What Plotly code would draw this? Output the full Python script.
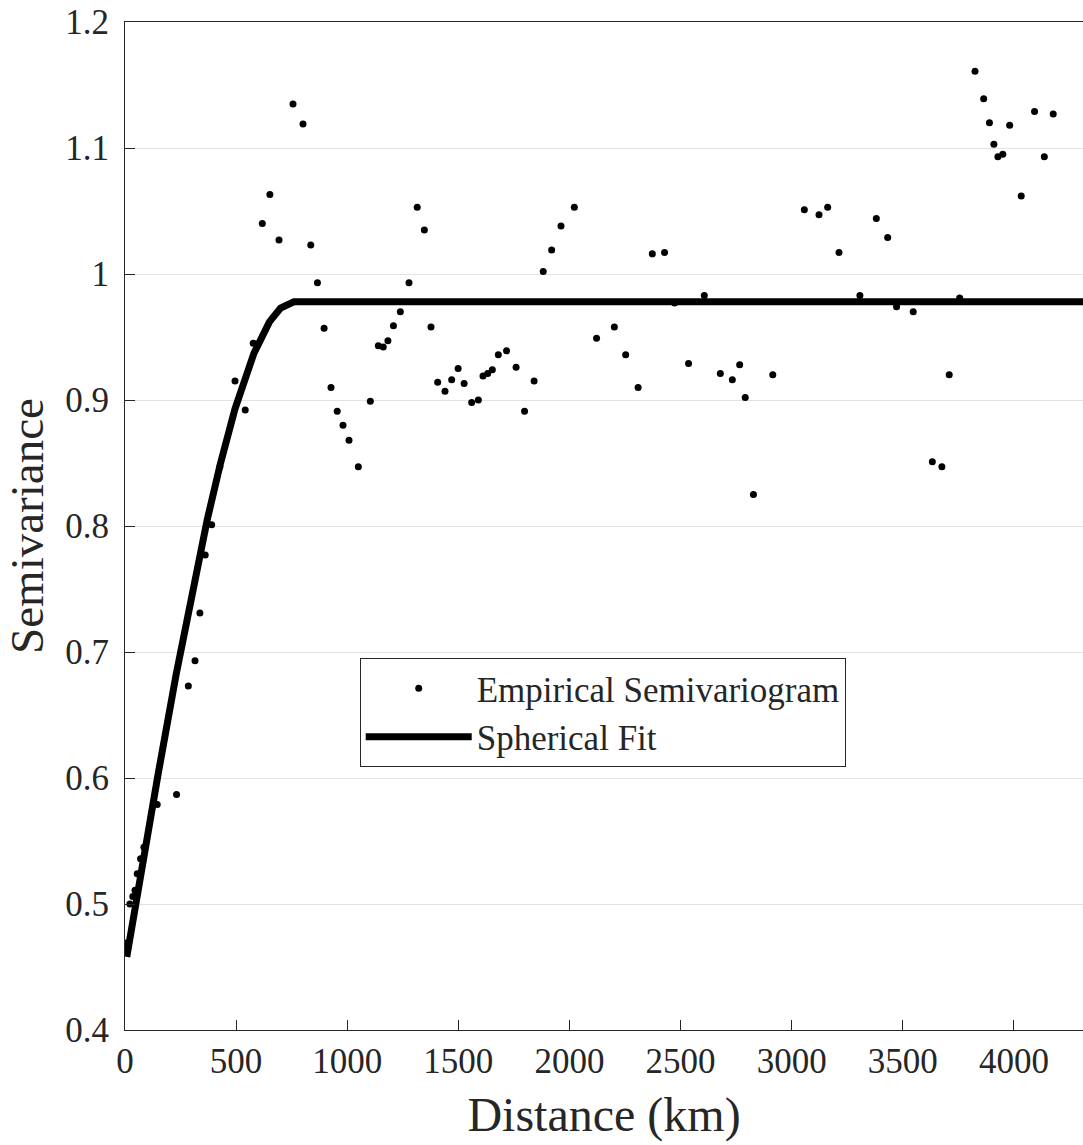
import plotly.graph_objects as go

# empirical semivariogram (distance in km, semivariance)
lag_km = [5, 22, 35, 45, 55, 70, 85, 145, 232, 285, 315, 337, 361, 390, 427,
          495, 541, 577, 618, 652, 693, 756, 801, 836, 866, 896, 927, 955, 981,
          1008, 1050, 1104, 1140, 1162, 1183, 1208, 1239, 1278, 1315, 1347, 1377,
          1407, 1440, 1470, 1499, 1526, 1560, 1590, 1611, 1632, 1653, 1680, 1717,
          1760, 1798, 1841, 1882, 1920, 1962, 2022, 2122, 2202, 2253, 2309, 2373,
          2428, 2473, 2536, 2607, 2679, 2733, 2766, 2791, 2828, 2915, 3057, 3123,
          3162, 3213, 3307, 3381, 3432, 3472, 3547, 3633, 3676, 3709, 3756, 3825,
          3864, 3890, 3910, 3928, 3950, 3981, 4033, 4093, 4137, 4177]
semivar = [0.469, 0.500, 0.506, 0.511, 0.524, 0.536, 0.545, 0.579, 0.587, 0.673,
           0.693, 0.731, 0.777, 0.801, 0.847, 0.915, 0.892, 0.945, 1.040, 1.063,
           1.027, 1.135, 1.119, 1.023, 0.993, 0.957, 0.910, 0.891, 0.880, 0.868,
           0.847, 0.899, 0.943, 0.942, 0.947, 0.959, 0.970, 0.993, 1.053, 1.035,
           0.958, 0.914, 0.907, 0.916, 0.925, 0.913, 0.898, 0.900, 0.919, 0.921,
           0.924, 0.936, 0.939, 0.926, 0.891, 0.915, 1.002, 1.019, 1.038, 1.053,
           0.949, 0.958, 0.936, 0.910, 1.016, 1.017, 0.977, 0.929, 0.983, 0.921,
           0.916, 0.928, 0.902, 0.825, 0.920, 1.051, 1.047, 1.053, 1.017, 0.983,
           1.044, 1.029, 0.974, 0.970, 0.851, 0.847, 0.920, 0.981, 1.161, 1.139,
           1.120, 1.103, 1.093, 1.095, 1.118, 1.062, 1.129, 1.093, 1.127]

# spherical fit
fit_km = [8, 40, 90, 150, 230, 300, 370, 430, 495, 580, 650, 700, 760, 4320]
fit_val = [0.458, 0.492, 0.543, 0.604, 0.682, 0.746, 0.805, 0.850, 0.893,
           0.937, 0.962, 0.973, 0.978, 0.978]

x_ticks = [0, 500, 1000, 1500, 2000, 2500, 3000, 3500, 4000]
y_ticks = [0.4, 0.5, 0.6, 0.7, 0.8, 0.9, 1.0, 1.1, 1.2]
y_labels = ['0.4', '0.5', '0.6', '0.7', '0.8', '0.9', '1', '1.1', '1.2']

serif = 'Liberation Serif, Times New Roman, serif'
ink = '#262626'

fig = go.Figure()
fig.add_trace(go.Scatter(x=lag_km, y=semivar, mode='markers',
                         name='Empirical Semivariogram',
                         marker=dict(color='black', size=7)))
fig.add_trace(go.Scatter(x=fit_km, y=fit_val, mode='lines',
                         name='Spherical Fit',
                         line=dict(color='black', width=7)))

fig.update_layout(
    width=1083, height=1145,
    margin=dict(l=125, r=0, t=22, b=115),
    plot_bgcolor='white', paper_bgcolor='white',
    font=dict(family=serif, size=35, color=ink),
    legend=dict(x=0.245, y=0.369, xanchor='left', yanchor='top',
                bgcolor='white', bordercolor=ink, borderwidth=1,
                font=dict(size=35), itemwidth=106, tracegroupgap=0),
)
fig.update_xaxes(range=[0, 4311], tickvals=x_ticks, ticks='inside', ticklen=10,
                 tickcolor=ink, showline=True, linecolor=ink, linewidth=1,
                 mirror=True, showgrid=False, zeroline=False, automargin=False,
                 title=dict(text='Distance (km)', font=dict(size=48), standoff=17))
fig.update_yaxes(range=[0.4, 1.2], tickvals=y_ticks, ticktext=y_labels,
                 ticks='inside', ticklen=10, tickcolor=ink, showline=True,
                 linecolor=ink, linewidth=1, showgrid=True, gridcolor='#e3e3e3',
                 zeroline=False, automargin=False, ticklabelstandoff=8,
                 title=dict(text='Semivariance', font=dict(size=47), standoff=6))

# drop the page margin so the figure sits at the window's top-left corner
fig.write_html("out.html", config={'displayModeBar': False},
               post_script="document.body.style.margin='0';"
                           "document.body.style.overflow='hidden';")
